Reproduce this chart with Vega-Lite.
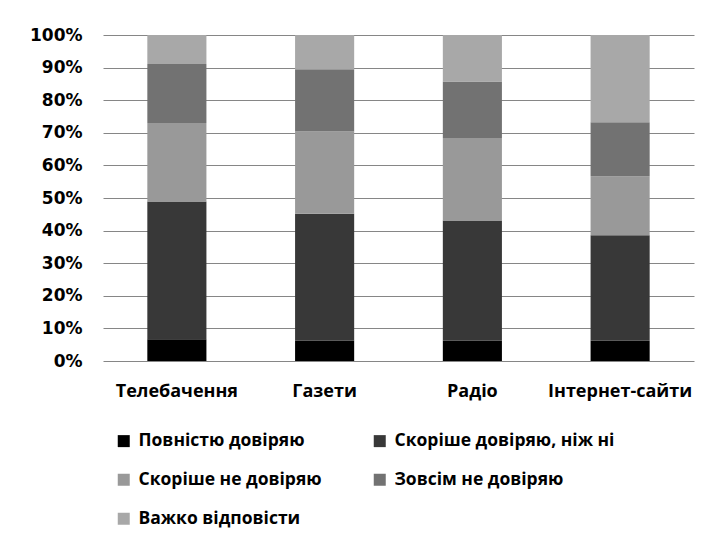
{
  "$schema": "https://vega.github.io/schema/vega-lite/v6.json",
  "width": 591,
  "height": 326,
  "autosize": "none",
  "padding": {"left": 103, "top": 35, "right": 15, "bottom": 178},
  "background": "white",
  "data": {
    "values": [
      {"media": "Телебачення", "answer": "Повністю довіряю", "k": 1, "value": 6.7},
      {"media": "Телебачення", "answer": "Скоріше довіряю, ніж ні", "k": 2, "value": 42.2},
      {"media": "Телебачення", "answer": "Скоріше не довіряю", "k": 3, "value": 24.1},
      {"media": "Телебачення", "answer": "Зовсім не довіряю", "k": 4, "value": 18.1},
      {"media": "Телебачення", "answer": "Важко відповісти", "k": 5, "value": 8.9},
      {"media": "Газети", "answer": "Повністю довіряю", "k": 1, "value": 6.2},
      {"media": "Газети", "answer": "Скоріше довіряю, ніж ні", "k": 2, "value": 39.0},
      {"media": "Газети", "answer": "Скоріше не довіряю", "k": 3, "value": 25.2},
      {"media": "Газети", "answer": "Зовсім не довіряю", "k": 4, "value": 19.1},
      {"media": "Газети", "answer": "Важко відповісти", "k": 5, "value": 10.5},
      {"media": "Радіо", "answer": "Повністю довіряю", "k": 1, "value": 6.2},
      {"media": "Радіо", "answer": "Скоріше довіряю, ніж ні", "k": 2, "value": 36.9},
      {"media": "Радіо", "answer": "Скоріше не довіряю", "k": 3, "value": 25.3},
      {"media": "Радіо", "answer": "Зовсім не довіряю", "k": 4, "value": 17.3},
      {"media": "Радіо", "answer": "Важко відповісти", "k": 5, "value": 14.3},
      {"media": "Інтернет-сайти", "answer": "Повністю довіряю", "k": 1, "value": 6.2},
      {"media": "Інтернет-сайти", "answer": "Скоріше довіряю, ніж ні", "k": 2, "value": 32.4},
      {"media": "Інтернет-сайти", "answer": "Скоріше не довіряю", "k": 3, "value": 18.1},
      {"media": "Інтернет-сайти", "answer": "Зовсім не довіряю", "k": 4, "value": 16.5},
      {"media": "Інтернет-сайти", "answer": "Важко відповісти", "k": 5, "value": 26.8}
    ]
  },
  "mark": {"type": "bar"},
  "encoding": {
    "x": {
      "field": "media",
      "type": "nominal",
      "sort": ["Телебачення", "Газети", "Радіо", "Інтернет-сайти"],
      "scale": {"paddingInner": 0.6, "paddingOuter": 0.3},
      "axis": {
        "title": null,
        "labelAngle": 0,
        "domain": false,
        "ticks": false,
        "labelPadding": 21,
        "labelFont": "Open Sans",
        "labelFontWeight": "bold",
        "labelFontSize": 18,
        "labelColor": "#000000"
      }
    },
    "y": {
      "field": "value",
      "type": "quantitative",
      "stack": "normalize",
      "scale": {"domain": [0, 1]},
      "axis": {
        "title": null,
        "format": ".0%",
        "values": [0, 0.1, 0.2, 0.3, 0.4, 0.5, 0.6, 0.7, 0.8, 0.9, 1],
        "domain": false,
        "ticks": false,
        "grid": true,
        "gridColor": "#868686",
        "gridWidth": 1,
        "labelPadding": 21,
        "labelFont": "DejaVu Sans",
        "labelFontWeight": "bold",
        "labelFontSize": 17,
        "labelColor": "#000000"
      }
    },
    "color": {
      "field": "answer",
      "type": "nominal",
      "sort": ["Повністю довіряю", "Скоріше довіряю, ніж ні", "Скоріше не довіряю", "Зовсім не довіряю", "Важко відповісти"],
      "scale": {
        "domain": ["Повністю довіряю", "Скоріше довіряю, ніж ні", "Скоріше не довіряю", "Зовсім не довіряю", "Важко відповісти"],
        "range": ["#000000", "#383838", "#999999", "#727272", "#a8a8a8"]
      },
      "legend": {
        "title": null,
        "orient": "none",
        "legendX": 12,
        "legendY": 397,
        "columns": 2,
        "direction": "horizontal",
        "columnPadding": 49,
        "rowPadding": 20,
        "padding": 0,
        "symbolType": "square",
        "symbolSize": 144,
        "symbolStrokeWidth": 0,
        "labelOffset": 6,
        "labelFont": "Open Sans",
        "labelFontWeight": "bold",
        "labelFontSize": 17.5,
        "labelColor": "#000000",
        "labelLimit": 400
      }
    },
    "order": {"field": "k", "type": "quantitative"}
  },
  "config": {
    "view": {"stroke": null}
  }
}
